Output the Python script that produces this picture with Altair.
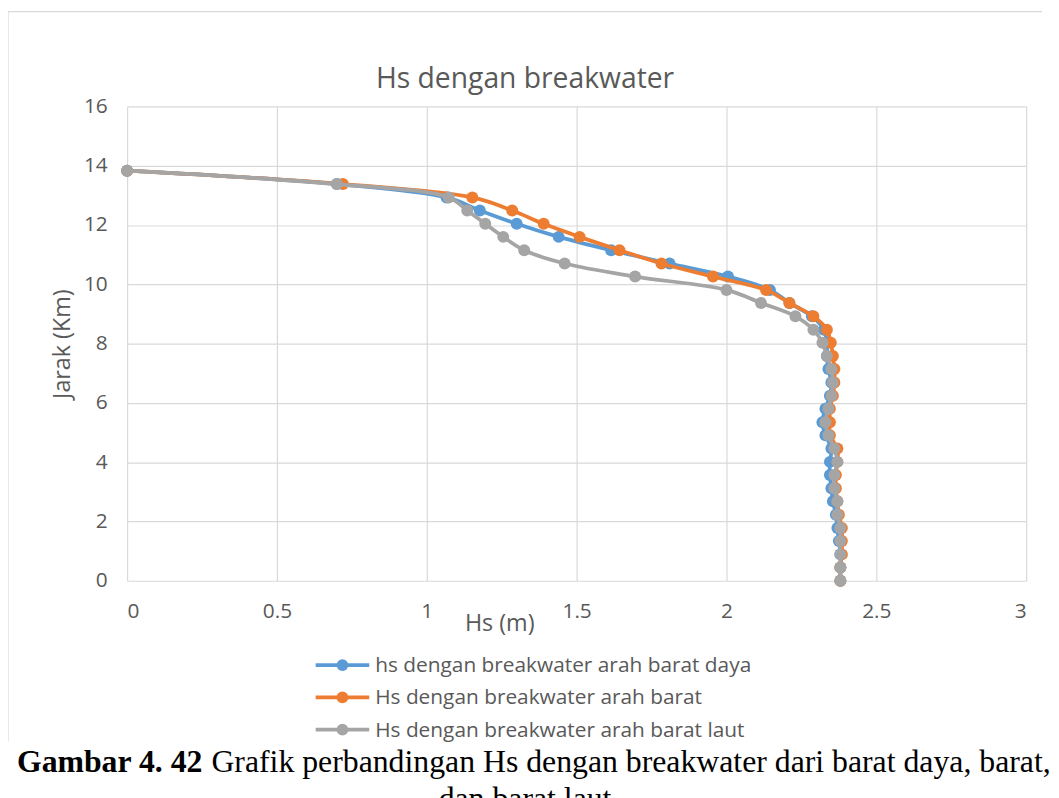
import altair as alt
import pandas as pd

# ---- data ----
jarak_km = [0.00, 0.45, 0.89, 1.34, 1.78, 2.23, 2.68, 3.12, 3.57, 4.01, 4.46,
            4.91, 5.35, 5.80, 6.24, 6.69, 7.14, 7.58, 8.03, 8.47, 8.92, 9.37,
            9.81, 10.26, 10.70, 11.15, 11.60, 12.04, 12.49, 12.93, 13.38, 13.83]

hs_barat_daya = [2.38, 2.38, 2.38, 2.375, 2.37, 2.365, 2.355, 2.35, 2.345, 2.345, 2.35,
                 2.33, 2.32, 2.33, 2.345, 2.35, 2.34, 2.335, 2.335, 2.325, 2.285, 2.21,
                 2.145, 2.005, 1.81, 1.615, 1.44, 1.30, 1.177, 1.066, 0.70, 0.0]

hs_barat = [2.38, 2.38, 2.385, 2.385, 2.385, 2.375, 2.37, 2.365, 2.365, 2.37, 2.37,
            2.345, 2.345, 2.345, 2.355, 2.36, 2.36, 2.355, 2.348, 2.335, 2.29, 2.21,
            2.132, 1.955, 1.783, 1.643, 1.51, 1.39, 1.285, 1.152, 0.72, 0.0]

hs_barat_laut = [2.38, 2.38, 2.38, 2.38, 2.38, 2.37, 2.37, 2.36, 2.36, 2.37, 2.36,
                 2.34, 2.33, 2.34, 2.35, 2.355, 2.35, 2.335, 2.32, 2.29, 2.23, 2.115,
                 2.00, 1.695, 1.46, 1.325, 1.255, 1.195, 1.135, 1.073, 0.70, 0.0]

series_names = ["hs dengan breakwater arah barat daya",
                "Hs dengan breakwater arah  barat",
                "Hs dengan breakwater arah barat laut"]
series_values = [hs_barat_daya, hs_barat, hs_barat_laut]
series_colors = ["#5B9BD5", "#ED7D31", "#A5A5A5"]

x_ticks = [0, 0.5, 1, 1.5, 2, 2.5, 3]
y_ticks = [0, 2, 4, 6, 8, 10, 12, 14, 16]

chart_title = "Hs dengan breakwater"
x_title = "Hs (m)"
y_title = "Jarak (Km)"
caption_bold = "Gambar 4. 42"
caption_rest = "Grafik perbandingan Hs dengan breakwater dari barat daya, barat,"
caption_line2 = "dan barat laut"

# ---- build table ----
rows = []
for name, vals in zip(series_names, series_values):
    for i, (h, j) in enumerate(zip(vals, jarak_km)):
        rows.append({"series": name, "hs": h, "jarak": j, "idx": i})
df = pd.DataFrame(rows)

W, H = 906, 478
TXT = "#595959"
FONT = "Open Sans"

x_enc = alt.X("hs:Q", scale=alt.Scale(domain=[0, 3], nice=False),
              axis=alt.Axis(values=x_ticks, format="~g", title=x_title,
                            titleX=375, titleY=50, titleBaseline="alphabetic",
                            labelPadding=20))
y_enc = alt.Y("jarak:Q", scale=alt.Scale(domain=[0, 16], nice=False),
              axis=alt.Axis(values=y_ticks, title=y_title, labelPadding=20,
                            titlePadding=9))

layers = []
for k, (name, color) in enumerate(zip(series_names, series_colors)):
    sub = alt.Chart(df).transform_filter(alt.datum.series == name)
    if k == 0:
        xe, ye = x_enc, y_enc
    else:
        xe, ye = alt.X("hs:Q"), alt.Y("jarak:Q")
    line = sub.mark_line(color=color, strokeWidth=3.8,
                         interpolate="catmull-rom").encode(x=xe, y=ye, order="idx:Q")
    pts = sub.mark_circle(color=color, size=145, opacity=1).encode(
        x=alt.X("hs:Q"), y=alt.Y("jarak:Q"))
    layers += [line, pts]

one = pd.DataFrame({"a": [0]})


def text(s, x, y, size, font=FONT, color=TXT, align="left", weight="normal",
         baseline="alphabetic"):
    return alt.Chart(one).mark_text(
        fontSize=size, font=font, color=color, align=align,
        fontWeight=weight, baseline=baseline
    ).encode(x=alt.value(x), y=alt.value(y), text=alt.value(s))


# chart title
layers.append(text(chart_title, 401, -19, 28.5, align="center"))

# legend
for k, (name, color) in enumerate(zip(series_names, series_colors)):
    ly = 563 + 32.5 * k
    layers.append(alt.Chart(one).mark_rule(color=color, strokeWidth=3.8).encode(
        x=alt.value(190), x2=alt.value(244), y=alt.value(ly)))
    layers.append(alt.Chart(one).mark_circle(color=color, size=141, opacity=1).encode(
        x=alt.value(217), y=alt.value(ly)))
    layers.append(text(name, 250, ly + 7, 21))

# outer border (top and left)
border = "#d9d9d9"
layers.append(alt.Chart(one).mark_rule(color=border, strokeWidth=1.2).encode(
    x=alt.value(-120), x2=alt.value(922), y=alt.value(-95.5)))
layers.append(alt.Chart(one).mark_rule(color=border, strokeWidth=1.2).encode(
    x=alt.value(-120), y=alt.value(-95.5), y2=alt.value(640)))

# caption
layers.append(text(caption_bold, -111, 671, 32, font="Liberation Serif",
                   color="#000000", weight="bold"))
layers.append(text(caption_rest, 85, 671, 32, font="Liberation Serif",
                   color="#000000"))
layers.append(text(caption_line2, 401, 708, 32, font="Liberation Serif",
                   color="#000000", align="center"))

chart = alt.layer(*layers).properties(
    width=W, height=H,
    autosize=alt.AutoSizeParams(type="none"),
    padding={"left": 120, "top": 96, "right": 25, "bottom": 250},
    background="white",
).configure_view(stroke=None).configure_axis(
    grid=True, gridColor="#d9d9d9", gridWidth=1.2, domain=False, ticks=False,
    labelFont=FONT, labelFontSize=21, labelColor=TXT,
    titleFont=FONT, titleFontSize=23.5, titleColor=TXT, titleFontWeight="normal",
)

chart.save("out.html", embed_options={"renderer": "svg", "actions": False})
